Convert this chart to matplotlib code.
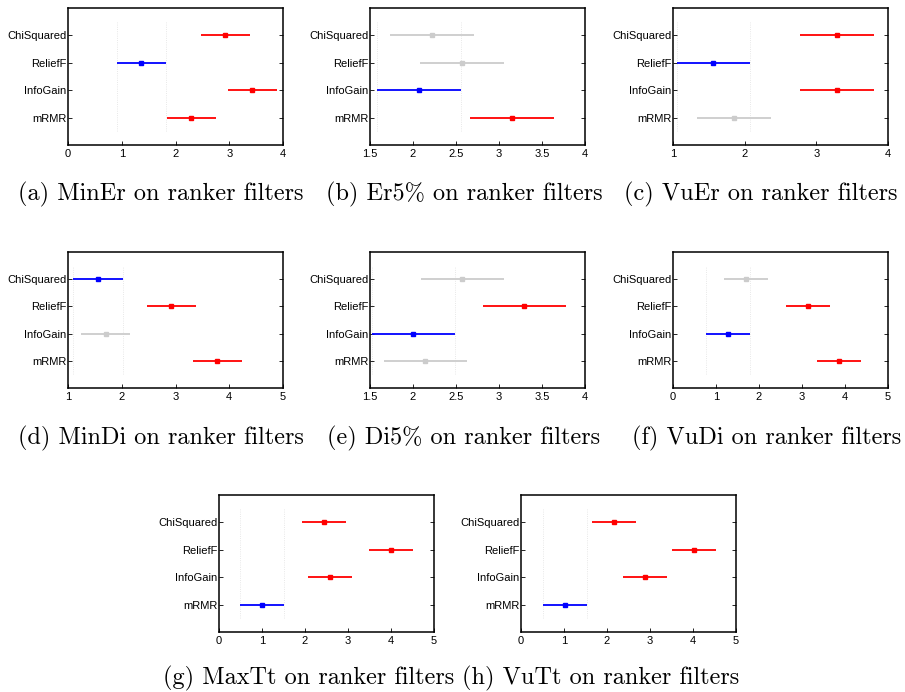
import matplotlib
matplotlib.use("Agg")
import matplotlib.pyplot as plt

W, H = 905, 692

filters = ["ChiSquared", "ReliefF", "InfoGain", "mRMR"]

# mean ranks per filter (ChiSquared, ReliefF, InfoGain, mRMR) and comparison interval half-width
minEr_means = [2.93, 1.36, 3.43, 2.29]
minEr_half = 0.455
minEr_status = ["sig", "sel", "sig", "sig"]

er5_means = [2.22, 2.574, 2.074, 3.151]
er5_half = 0.487
er5_status = ["ns", "ns", "sel", "sig"]

vuEr_means = [3.288, 1.563, 3.288, 1.851]
vuEr_half = 0.514
vuEr_status = ["sig", "sel", "sig", "ns"]

minDi_means = [1.558, 2.922, 1.70, 3.778]
minDi_half = 0.46
minDi_status = ["sel", "sig", "ns", "sig"]

di5_means = [2.574, 3.295, 2.004, 2.143]
di5_half = 0.485
di5_status = ["ns", "sig", "sel", "ns"]

vuDi_means = [1.705, 3.14, 1.271, 3.853]
vuDi_half = 0.51
vuDi_status = ["ns", "sig", "sel", "sig"]

maxTt_means = [2.434, 4.008, 2.574, 1.008]
maxTt_half = 0.51
maxTt_status = ["sig", "sig", "sig", "sel"]

vuTt_means = [2.159, 4.025, 2.879, 1.014]
vuTt_half = 0.51
vuTt_status = ["sig", "sig", "sig", "sel"]

captions = [
    "(a) MinEr on ranker filters",
    "(b) Er5% on ranker filters",
    "(c) VuEr on ranker filters",
    "(d) MinDi on ranker filters",
    "(e) Di5% on ranker filters",
    "(f) VuDi on ranker filters",
    "(g) MaxTt on ranker filters",
    "(h) VuTt on ranker filters",
]

xlims = [(0, 4), (1.5, 4), (1, 4), (1, 5), (1.5, 4), (0, 5), (0, 5), (0, 5)]
xstep = [1, 0.5, 1, 1, 0.5, 1, 1, 1]

panels = [
    (minEr_means, minEr_half, minEr_status),
    (er5_means, er5_half, er5_status),
    (vuEr_means, vuEr_half, vuEr_status),
    (minDi_means, minDi_half, minDi_status),
    (di5_means, di5_half, di5_status),
    (vuDi_means, vuDi_half, vuDi_status),
    (maxTt_means, maxTt_half, maxTt_status),
    (vuTt_means, vuTt_half, vuTt_status),
]

# axes boxes in pixels: left, right, top, bottom
boxes = [
    (68, 283, 8, 145), (370, 585, 8, 145), (673, 888, 8, 145),
    (68, 283, 252, 388), (370, 585, 252, 388), (673, 888, 252, 388),
    (219, 434, 495, 632), (521, 736, 495, 632),
]
# caption centers (x) and baselines (y) in pixels
cap_pos = [
    (161, 200), (464, 200), (761, 200),
    (161, 444), (464, 444), (767, 444),
    (309, 684), (601, 684),
]

colors = {"sel": (0, 0, 1), "sig": (1, 0, 0), "ns": (0.8, 0.8, 0.8)}

fig = plt.figure(figsize=(W / 100, H / 100), dpi=100)
fig.patch.set_facecolor("white")

tick_font = "Liberation Sans"

for (means, half, status), (l, r, t, b), xl, st in zip(panels, boxes, xlims, xstep):
    ax = fig.add_axes([l / W, 1 - b / H, (r - l) / W, (b - t) / H])
    ypos = [4, 3, 2, 1]
    # dotted guide lines at the selected group's interval ends
    for m, s in zip(means, status):
        if s == "sel":
            for xv in (m - half, m + half):
                ax.plot([xv, xv], [0.5, 4.5], linestyle=":", color=(0.88, 0.88, 0.88),
                        linewidth=0.6, zorder=1)
    for y, m, s in zip(ypos, means, status):
        c = colors[s]
        ax.plot([m - half, m + half], [y, y], color=c, linewidth=1.3, zorder=2,
                solid_capstyle="butt")
        ax.plot([m], [y], marker="s", markersize=2.4, color=c, zorder=3)
    ax.set_xlim(*xl)
    ax.set_ylim(0, 5)
    n = int(round((xl[1] - xl[0]) / st))
    ticks = [xl[0] + i * st for i in range(n + 1)]
    ax.set_xticks(ticks)
    ax.set_xticklabels([("%g" % v) for v in ticks], fontsize=8, family=tick_font)
    ax.set_yticks(ypos)
    ax.set_yticklabels(filters, fontsize=8, family=tick_font)
    ax.tick_params(axis="x", direction="in", length=3, width=0.6, pad=3,
                   top=False, bottom=True)
    ax.tick_params(axis="y", direction="in", length=3, width=0.6, pad=1,
                   left=True, right=True)
    for sp in ax.spines.values():
        sp.set_linewidth(1.1)
        sp.set_color("black")

for txt, (cx, cy) in zip(captions, cap_pos):
    fig.text(cx / W, 1 - cy / H, txt, ha="center", va="baseline",
             fontsize=17.5, family="cmr10")

fig.savefig("out.png", dpi=100)
